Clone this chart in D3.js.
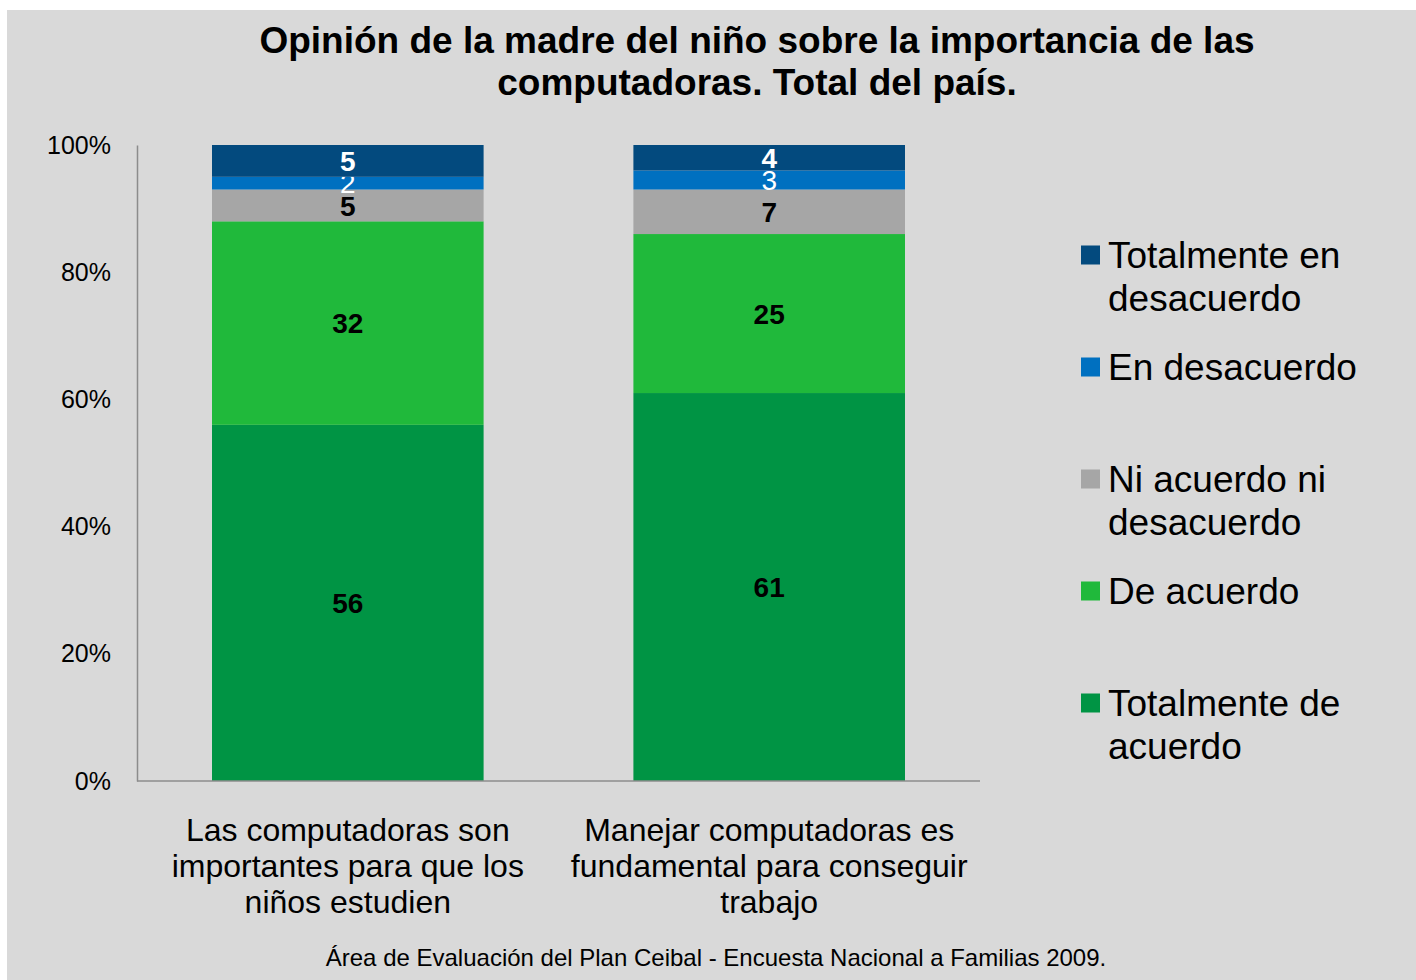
<!DOCTYPE html>
<html>
<head>
<meta charset="utf-8">
<script src="https://cdn.jsdelivr.net/npm/d3@7"></script>
<style>
  body { margin: 0; background: #fff; }
  svg { display: block; font-family: "Liberation Sans", Arial, sans-serif; }
</style>
</head>
<body>
<svg></svg>
<script>
const width = 1416;
const height = 980;

// datos
const categories = [
    ["Las computadoras son", "importantes para que los", "niños estudien"],
    ["Manejar computadoras es", "fundamental para conseguir", "trabajo"]
];
const seriesNames = ["Totalmente de acuerdo", "De acuerdo", "Ni acuerdo ni desacuerdo", "En desacuerdo", "Totalmente en desacuerdo"];
const legendLines = [["Totalmente de", "acuerdo"], ["De acuerdo"], ["Ni acuerdo ni", "desacuerdo"], ["En desacuerdo"], ["Totalmente en", "desacuerdo"]];
const totAcuerdo = [56, 61];
const deAcuerdo = [32, 25];
const niAcuerdo = [5, 7];
const enDesacuerdo = [2, 3];
const totDesacuerdo = [5, 4];
const yTicks = [0, 20, 40, 60, 80, 100];

const colors = ["#009444", "#20b93b", "#a6a6a6", "#0070c0", "#034a7e"];
const labelFill = ["#000", "#000", "#000", "#fff", "#fff"];
const labelWeight = ["bold", "bold", "bold", "normal", "bold"];

const values = [totAcuerdo, deAcuerdo, niAcuerdo, enDesacuerdo, totDesacuerdo];
const rows = categories.map((c, i) => {
    let r = { idx: i };
    seriesNames.forEach((s, k) => r[s] = values[k][i]);
    return r;
});

let svg = d3.select("svg")
    .attr("width", width)
    .attr("height", height);

// fondo
svg.append("rect")
    .attr("x", 7).attr("y", 10)
    .attr("width", width - 7).attr("height", height - 10)
    .attr("fill", "#d9d9d9");

// titulo
svg.append("text")
    .attr("x", 757).attr("y", 53)
    .attr("text-anchor", "middle")
    .style("font-size", "37px").style("font-weight", "bold")
    .selectAll("tspan")
    .data(["Opinión de la madre del niño sobre la importancia de las", "computadoras. Total del país."])
    .enter().append("tspan")
    .attr("x", 757)
    .attr("dy", (d, i) => i === 0 ? 0 : 42)
    .text(d => d);

const x0 = 137, x1 = 980, yTop = 145, yBottom = 781;

let scaleX = d3.scaleBand()
    .domain(rows.map(d => d.idx))
    .range([x0, x1])
    .paddingInner(0.3555)
    .paddingOuter(0.178);

let scaleY = d3.scaleLinear()
    .domain([0, 100])
    .range([yBottom, yTop]);

const stack = d3.stack().keys(seriesNames)(rows);

// barras
stack.forEach((layer, k) => {
    svg.append("g")
        .selectAll("rect")
        .data(layer)
        .enter()
        .append("rect")
        .attr("x", d => scaleX(d.data.idx))
        .attr("y", d => scaleY(d[1]))
        .attr("width", scaleX.bandwidth())
        .attr("height", d => scaleY(d[0]) - scaleY(d[1]))
        .attr("fill", colors[k]);

    svg.append("g")
        .selectAll("text")
        .data(layer)
        .enter()
        .append("text")
        .attr("x", d => scaleX(d.data.idx) + scaleX.bandwidth() / 2)
        .attr("y", d => scaleY((d[0] + d[1]) / 2))
        .attr("dy", "0.36em")
        .attr("text-anchor", "middle")
        .style("font-size", "28px")
        .style("font-weight", labelWeight[k])
        .attr("fill", labelFill[k])
        .text(d => d[1] - d[0]);
});

// ejes
let axisY = d3.axisLeft(scaleY)
    .tickValues(yTicks)
    .tickFormat(d => d + "%")
    .tickSize(0)
    .tickPadding(26);

let gy = svg.append("g")
    .attr("transform", `translate(${x0}, 0)`)
    .call(axisY);
gy.select(".domain").attr("stroke", "#8c8c8c").attr("stroke-width", 1.5);
gy.selectAll("text")
    .style("font-size", "25px")
    .style("font-family", "'Liberation Sans', Arial, sans-serif")
    .attr("fill", "#000");

svg.append("line")
    .attr("x1", x0).attr("x2", x1)
    .attr("y1", yBottom).attr("y2", yBottom)
    .attr("stroke", "#8c8c8c").attr("stroke-width", 1.5);

// etiquetas de categorias
svg.append("g")
    .selectAll("text")
    .data(rows)
    .enter()
    .append("text")
    .attr("text-anchor", "middle")
    .style("font-size", "32px")
    .each(function(d) {
        d3.select(this).selectAll("tspan")
            .data(categories[d.idx])
            .enter().append("tspan")
            .attr("x", scaleX(d.idx) + scaleX.bandwidth() / 2)
            .attr("y", (t, i) => 841 + i * 36)
            .text(t => t);
    });

// leyenda
const legendY = [703, 591, 479, 367, 255];
let legend = svg.append("g");
seriesNames.forEach((s, k) => {
    legend.append("rect")
        .attr("x", 1081).attr("y", legendY[k] - 9.5)
        .attr("width", 19).attr("height", 19)
        .attr("fill", colors[k]);
    legend.append("text")
        .style("font-size", "37px")
        .selectAll("tspan")
        .data(legendLines[k])
        .enter().append("tspan")
        .attr("x", 1108)
        .attr("y", (t, i) => legendY[k] + 13 + i * 43)
        .text(t => t);
});

// fuente
svg.append("text")
    .attr("x", 716).attr("y", 966)
    .attr("text-anchor", "middle")
    .style("font-size", "24px")
    .text("Área de Evaluación del Plan Ceibal - Encuesta Nacional a Familias 2009.");
</script>
</body>
</html>
